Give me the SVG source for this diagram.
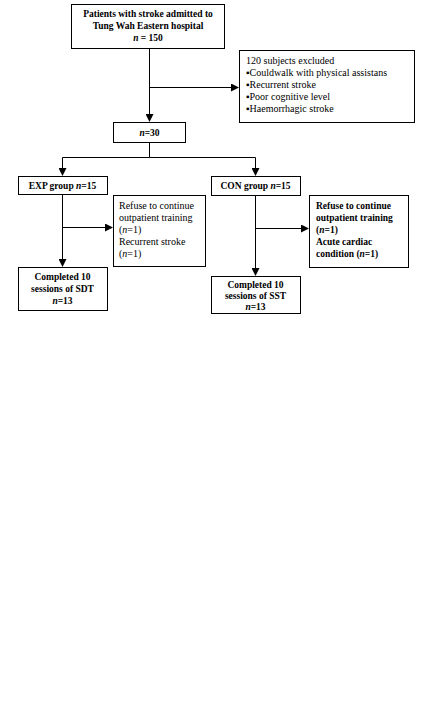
<svg xmlns="http://www.w3.org/2000/svg" width="439" height="705" viewBox="0 0 439 705">
<style>
rect.b{fill:#fff;stroke:#000;stroke-width:1}
text{font-family:"Liberation Serif","Times New Roman",serif;font-size:10px;fill:#000}
.bd{font-weight:bold;font-size:9.5px}
.c{text-anchor:middle}
.ln{stroke:#000;stroke-width:1;fill:none}
</style>
<defs>
<marker id="ah" markerWidth="8" markerHeight="8" refX="7" refY="4" orient="auto" markerUnits="userSpaceOnUse">
<path d="M0,0 L8,4 L0,8 Z" fill="#000"/>
</marker>
</defs>
<rect width="439" height="705" fill="#fff"/>
<g id="connectors">
<path class="ln" d="M149.5,49 V121" marker-end="url(#ah)"/>
<path class="ln" d="M149.5,87.5 H238" marker-end="url(#ah)"/>
<path class="ln" d="M149.5,142 V157.5 H62.5 V175" marker-end="url(#ah)"/>
<path class="ln" d="M149.5,157.5 H255.5 V175" marker-end="url(#ah)"/>
<path class="ln" d="M62.5,194 V266" marker-end="url(#ah)"/>
<path class="ln" d="M62.5,227.5 H112" marker-end="url(#ah)"/>
<path class="ln" d="M255.5,195 V275" marker-end="url(#ah)"/>
<path class="ln" d="M255.5,228.5 H308" marker-end="url(#ah)"/>
</g>
<g id="top">
<rect class="b" x="71.5" y="4.5" width="153" height="44"/>
<text class="bd c" x="148" y="17">Patients with stroke admitted to</text>
<text class="bd c" x="148" y="29">Tung Wah Eastern hospital</text>
<text class="bd c" x="148" y="41"><tspan font-style="italic">n</tspan> = 150</text>
</g>
<g id="excluded">
<rect class="b" x="239.5" y="50.5" width="175" height="72"/>
<text x="246" y="64">120 subjects excluded</text>
<text x="246" y="76">▪Couldwalk with physical assistans</text>
<text x="246" y="88">▪Recurrent stroke</text>
<text x="246" y="100">▪Poor cognitive level</text>
<text x="246" y="112">▪Haemorrhagic stroke</text>
</g>
<g id="n30">
<rect class="b" x="113.5" y="122.5" width="72" height="20"/>
<text class="bd c" x="149.5" y="135.5"><tspan font-style="italic">n</tspan>=30</text>
</g>
<g id="exp">
<rect class="b" x="18.5" y="176.5" width="89" height="18"/>
<text class="bd c" x="62.5" y="188.5">EXP group <tspan font-style="italic">n</tspan>=15</text>
</g>
<g id="con">
<rect class="b" x="211.5" y="176.5" width="89" height="19"/>
<text class="bd c" x="255.5" y="189">CON group <tspan font-style="italic">n</tspan>=15</text>
</g>
<g id="exp-drop">
<rect class="b" x="113.5" y="195.5" width="92" height="71"/>
<text x="119" y="209">Refuse to continue</text>
<text x="119" y="221">outpatient training</text>
<text x="119" y="233">(<tspan font-style="italic">n</tspan>=1)</text>
<text x="119" y="245">Recurrent stroke</text>
<text x="119" y="257">(<tspan font-style="italic">n</tspan>=1)</text>
</g>
<g id="con-drop">
<rect class="b" x="309.5" y="195.5" width="99" height="72"/>
<text class="bd" x="316" y="209">Refuse to continue</text>
<text class="bd" x="316" y="221">outpatient training</text>
<text class="bd" x="316" y="233">(<tspan font-style="italic">n</tspan>=1)</text>
<text class="bd" x="316" y="245">Acute cardiac</text>
<text class="bd" x="316" y="257">condition  (<tspan font-style="italic">n</tspan>=1)</text>
</g>
<g id="sdt">
<rect class="b" x="18.5" y="267.5" width="89" height="43"/>
<text class="bd c" x="62.5" y="280">Completed 10</text>
<text class="bd c" x="62.5" y="292">sessions of SDT</text>
<text class="bd c" x="62.5" y="304"><tspan font-style="italic">n</tspan>=13</text>
</g>
<g id="sst">
<rect class="b" x="211.5" y="276.5" width="89" height="37"/>
<text class="bd c" x="255.5" y="288">Completed 10</text>
<text class="bd c" x="255.5" y="299">sessions of SST</text>
<text class="bd c" x="255.5" y="310"><tspan font-style="italic">n</tspan>=13</text>
</g>
</svg>
